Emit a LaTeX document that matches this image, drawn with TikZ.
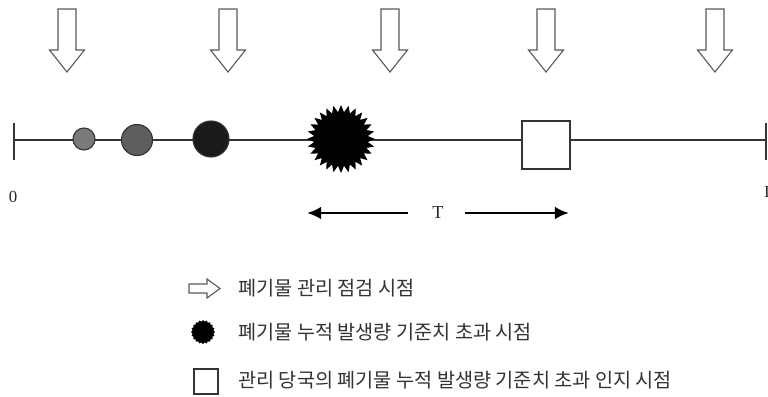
\documentclass[tikz,border=0pt]{standalone}
\usepackage{fontspec}
\setmainfont{Liberation Serif}
\newfontfamily\kofont{Noto Sans CJK KR}
\usepackage{tikz}
\usepackage{xcolor}
\usetikzlibrary{arrows.meta}
\definecolor{lineg}{HTML}{333333}
\definecolor{arrowg}{HTML}{5A5A5A}
\definecolor{dotA}{HTML}{7A7A7A}
\definecolor{dotB}{HTML}{5E5E5E}
\definecolor{dotC}{HTML}{1A1A1A}

\begin{document}
\begin{tikzpicture}[x=0.025cm, y=-0.025cm, line join=miter,
    timeline/.style={draw=lineg, line width=1.1pt},
    checkarrow/.style={draw=arrowg, line width=0.8pt, fill=white},
    dot/.style={draw=lineg, line width=0.8pt},
    legendtext/.style={anchor=west, inner sep=0pt, text=black!80, font=\kofont\fontsize{14}{16}\selectfont},
    numlabel/.style={inner sep=0pt, text=black!85, font=\fontsize{12}{13}\selectfont}]
\useasboundingbox (0,0) rectangle (768,396);

% Time axis with end ticks
\draw[timeline] (14,140) -- (766,140);
\draw[timeline] (14,123) -- (14,160);
\draw[timeline] (766,123) -- (766,160);
\node[numlabel] (start) at (13,197) {0};
\node[numlabel] (endlabel) at (767,192) {I};

% Inspection arrows (hollow, pointing down)
\foreach \x in {67,228,390,546,715}
    \draw[checkarrow] (\x-9,9) -- (\x+9,9) -- (\x+9,50) -- (\x+17.5,50)
        -- (\x,72) -- (\x-17.5,50) -- (\x-9,50) -- cycle;

% Growing waste piles
\draw[dot, fill=dotA] (84,139) circle (11);
\draw[dot, fill=dotB] (137,140) circle (15.5);
\draw[dot, fill=dotC] (211,139) circle (18);

% Threshold exceeded (starburst)
\begin{scope}[shift={(341,139)}]
\fill[black] (0:34)
    \foreach \a in {0,12.857,...,350} { -- (\a:34) -- (\a+6.43:27) } -- cycle;
\end{scope}

% Authority notices
\draw[dot, fill=white] (522,121) rectangle (570,169);

% Delay T
\node[numlabel, font=\fontsize{13}{14}\selectfont] (delay) at (438,213) {T};
\coordinate (tleft) at (307,213);
\coordinate (tright) at (569,213);
\draw[-{Latex[length=10pt,width=9pt]}, line width=1.8pt] (delay.west) ++(-24,0) -- (tleft);
\draw[-{Latex[length=10pt,width=9pt]}, line width=1.8pt] (delay.east) ++(21,0) -- (tright);

% Legend
\draw[checkarrow] (189,284) -- (207,284) -- (207,279) -- (220,288.5)
    -- (207,298) -- (207,293) -- (189,293) -- cycle;
\node[legendtext] (leg1) at (238,288) {폐기물 관리 점검 시점};

\begin{scope}[shift={(203,332)}]
\fill[black] (0:12)
    \foreach \a in {0,18,...,350} { -- (\a:12) -- (\a+9:10.5) } -- cycle;
\end{scope}
\node[legendtext] (leg2) at (238,332) {폐기물 누적 발생량 기준치 초과 시점};

\draw[dot, fill=white] (194,369) rectangle (218,394);
\node[legendtext] (leg3) at (238,380) {관리 당국의 폐기물 누적 발생량 기준치 초과 인지 시점};
\end{tikzpicture}
\end{document}
